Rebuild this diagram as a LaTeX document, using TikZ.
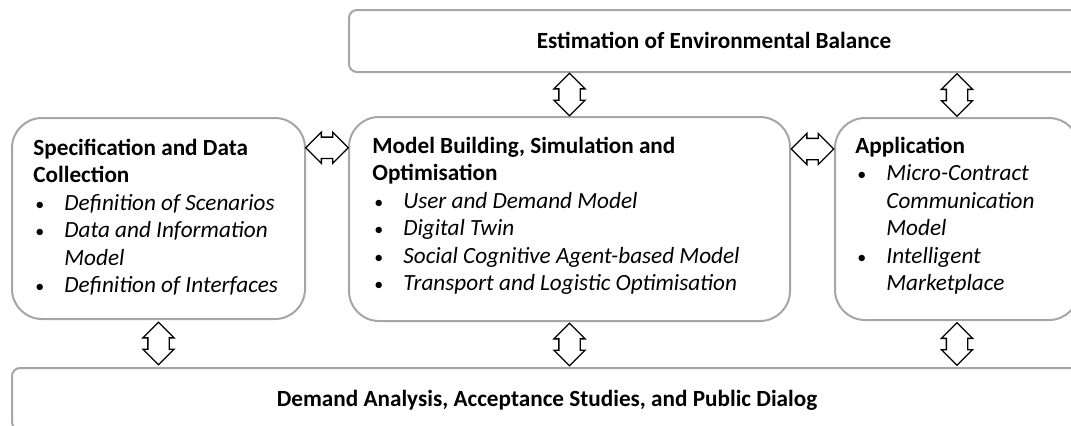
\documentclass[tikz,border=0pt]{standalone}
\usepackage{fontspec}
\setmainfont{Carlito}
\usetikzlibrary{shapes.arrows,calc}

\tikzset{
  blk/.style={draw=black!35, line width=1pt, rounded corners=15pt, fill=white, inner sep=0pt},
  band/.style={draw=black!35, line width=1pt, rounded corners=4pt, fill=white, inner sep=0pt},
  txt/.style={anchor=base west, align=left, inner sep=0pt, font=\fontsize{11.6}{13.75}\selectfont},
  head/.style={anchor=base, inner sep=0pt, font=\fontsize{11.6}{13.75}\selectfont\bfseries},
  dbl/.style={double arrow, draw=black, line width=0.65pt, fill=white, inner sep=5pt,
    double arrow head extend=2.5pt, double arrow tip angle=90, minimum height=18pt}
}
\newcommand{\bul}[1]{\hspace*{1pt}\makebox[14.5pt][l]{\fontsize{9}{9}\selectfont\textbullet}\textit{#1}}
\newcommand{\cont}[1]{\hspace*{15.5pt}\textit{#1}}

\begin{document}
\begin{tikzpicture}[x=0.5pt,y=-0.5pt]
\useasboundingbox (0,0) rectangle (1071,425);
\clip (0,0) rectangle (1071,425);

% outer bands
\node[band, minimum width=375.5pt, minimum height=31pt] (est) at (724.5,41) {};
\node[band, minimum width=544pt, minimum height=31pt] (dem) at (556,399) {};
\node[head] (esttxt) at (714,48) {Estimation of Environmental Balance};
\node[head] (demtxt) at (547,406) {Demand Analysis, Acceptance Studies, and Public Dialog};

% work packages
\node[blk, minimum width=146.5pt, minimum height=100.5pt] (spec) at (158.5,218.5) {};
\node[blk, minimum width=220.5pt, minimum height=102pt] (model) at (569.5,219) {};
\node[blk, minimum width=122pt, minimum height=101pt] (app) at (957,219) {};

% texts sit on the baseline of their last line
\node[txt] (spectxt) at (33,292.5) {\textbf{Specification and Data}\\ \textbf{Collection}\\
  \bul{Definition of Scenarios}\\ \bul{Data and Information}\\ \cont{Model}\\
  \bul{Definition of Interfaces}};
\node[txt] (modeltxt) at (372,290.5) {\textbf{Model Building, Simulation and}\\ \textbf{Optimisation}\\
  \bul{User and Demand Model}\\ \bul{Digital Twin}\\
  \bul{Social Cognitive Agent-based Model}\\ \bul{Transport and Logistic Optimisation}};
\node[txt] (apptxt) at (855,290.5) {\textbf{Application}\\
  \bul{Micro-Contract}\\ \cont{Communication}\\ \cont{Model}\\
  \bul{Intelligent}\\ \cont{Marketplace}};

% exchange arrows
\node[dbl, rotate=90] (estmodel) at ($(est.south -| model)!0.5!(model.north)$) {};
\node[dbl, rotate=90] (estapp) at ($(est.south -| app)!0.5!(app.north)$) {};
\node[dbl, rotate=90] (specdem) at ($(spec.south)!0.5!(dem.north -| spec)$) {};
\node[dbl, rotate=90] (modeldem) at ($(model.south)!0.5!(dem.north -| model)$) {};
\node[dbl, rotate=90] (appdem) at ($(app.south)!0.5!(dem.north -| app)$) {};
\node[dbl, yshift=35.5pt] (specmodel) at ($(spec.east)!0.5!(model.west)$) {};
\node[dbl, yshift=35pt] (modelapp) at ($(model.east)!0.5!(app.west)$) {};

\end{tikzpicture}
\end{document}
